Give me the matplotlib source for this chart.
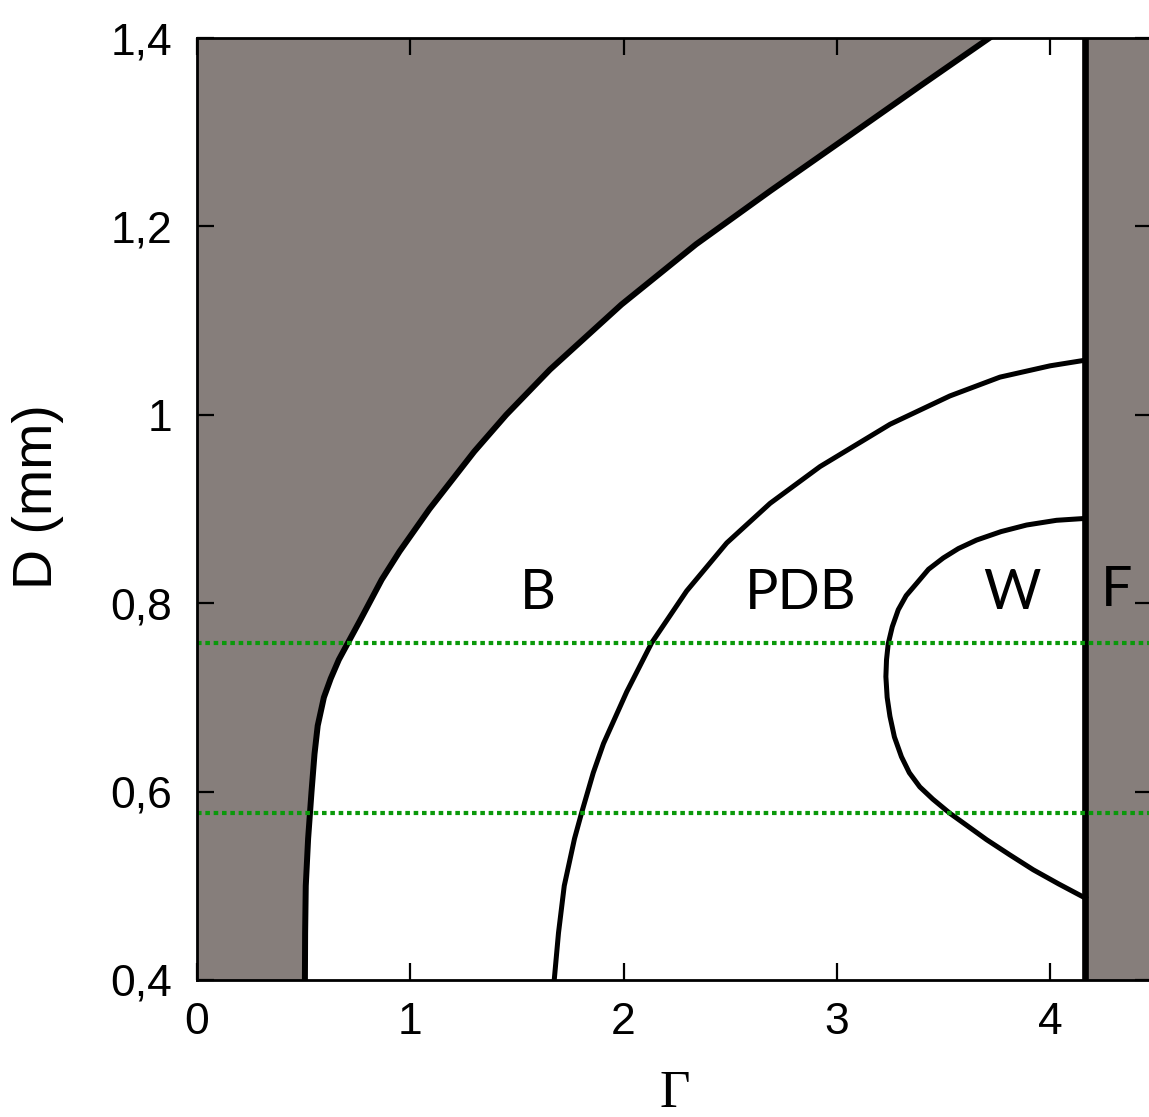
import numpy as np
import matplotlib.pyplot as plt

# bord gauche (zone grise) : Gamma en fonction de D
left_D = [0.400, 0.450, 0.500, 0.550, 0.600, 0.640, 0.670, 0.700, 0.720, 0.740,
          0.758, 0.781, 0.825, 0.855, 0.900, 0.961, 1.000, 1.048, 1.117, 1.181,
          1.238, 1.295, 1.349, 1.400]
left_G = [0.506, 0.507, 0.510, 0.521, 0.537, 0.551, 0.566, 0.595, 0.627, 0.665,
          0.708, 0.763, 0.866, 0.950, 1.090, 1.300, 1.450, 1.655, 1.990, 2.340,
          2.690, 3.050, 3.390, 3.715]

# frontiere B / PDB
pdb_G = [1.675, 1.695, 1.722, 1.770, 1.804, 1.858, 1.906, 2.015, 2.132, 2.296,
         2.484, 2.687, 2.921, 3.250, 3.530, 3.765, 4.000, 4.165]
pdb_D = [0.400, 0.450, 0.500, 0.550, 0.578, 0.620, 0.651, 0.706, 0.758, 0.813,
         0.864, 0.906, 0.945, 0.990, 1.020, 1.040, 1.052, 1.058]

# frontiere PDB / W
w_G = [4.165, 4.030, 3.890, 3.770, 3.655, 3.570, 3.499, 3.430, 3.374, 3.325,
       3.288, 3.260, 3.241, 3.233, 3.230, 3.236, 3.249, 3.270, 3.303, 3.340,
       3.389, 3.450, 3.530, 3.610, 3.702, 3.810, 3.921, 4.040, 4.165]
w_D = [0.890, 0.888, 0.883, 0.876, 0.867, 0.858, 0.848, 0.836, 0.821, 0.808,
       0.793, 0.775, 0.757, 0.740, 0.722, 0.700, 0.680, 0.658, 0.637, 0.620,
       0.605, 0.592, 0.577, 0.564, 0.549, 0.533, 0.517, 0.502, 0.487]

# seuil F
G_F = 4.165
# coupes horizontales (vert)
D_cuts = [0.758, 0.577]

labels = ['B', 'PDB', 'W', 'F']
label_G = [1.60, 2.83, 3.82, 4.31]
label_D = [0.81, 0.81, 0.81, 0.814]

xticks = [0, 1, 2, 3, 4]
yticks = [0.4, 0.6, 0.8, 1.0, 1.2, 1.4]
yticklabels = ['0,4', '0,6', '0,8', '1', '1,2', '1,4']

gris = '#867e7b'

fig = plt.figure(figsize=(11.49, 11.17), dpi=100)
ax = fig.add_axes([0.17145, 0.12265, 0.8312, 0.84333])

ax.fill_betweenx(left_D, 0, left_G, color=gris, lw=0)
ax.plot(left_G, left_D, color='black', lw=4.3, solid_joinstyle='round')
ax.axvspan(G_F, 5, color=gris, lw=0)
ax.axvline(G_F, color='black', lw=4.8)
ax.plot(pdb_G, pdb_D, color='black', lw=3.6, solid_joinstyle='round')
ax.plot(w_G, w_D, color='black', lw=3.6, solid_joinstyle='round')

for d in D_cuts:
    ax.axhline(d, color='#0a990a', lw=3.0, dashes=(1.1, 0.9), zorder=3)

for t, g, d in zip(labels, label_G, label_D):
    ax.text(g, d, t, fontsize=40, family=['Lato', 'DejaVu Sans'],
            ha='center', va='center')

ax.set_xlim(0, 4.478)
ax.set_ylim(0.4, 1.4)
ax.set_xticks(xticks)
ax.set_yticks(yticks)
ax.set_yticklabels(yticklabels)
ax.tick_params(direction='in', length=12.5, width=1.6, top=True, right=True,
               labelsize=32, pad=16)
ax.tick_params(axis='y', pad=18)
for lab in ax.get_xticklabels() + ax.get_yticklabels():
    lab.set_family('Liberation Sans')
for s in ax.spines.values():
    s.set_linewidth(2)
    s.set_zorder(4)

ax.set_xlabel('Γ', fontsize=38, family='Liberation Serif')
ax.xaxis.set_label_coords(0.5, -0.096)
ax.set_ylabel('D (mm)', fontsize=40, family='Liberation Sans')
ax.yaxis.set_label_coords(-0.139, 0.513)

fig.savefig('out.png', dpi=100)
